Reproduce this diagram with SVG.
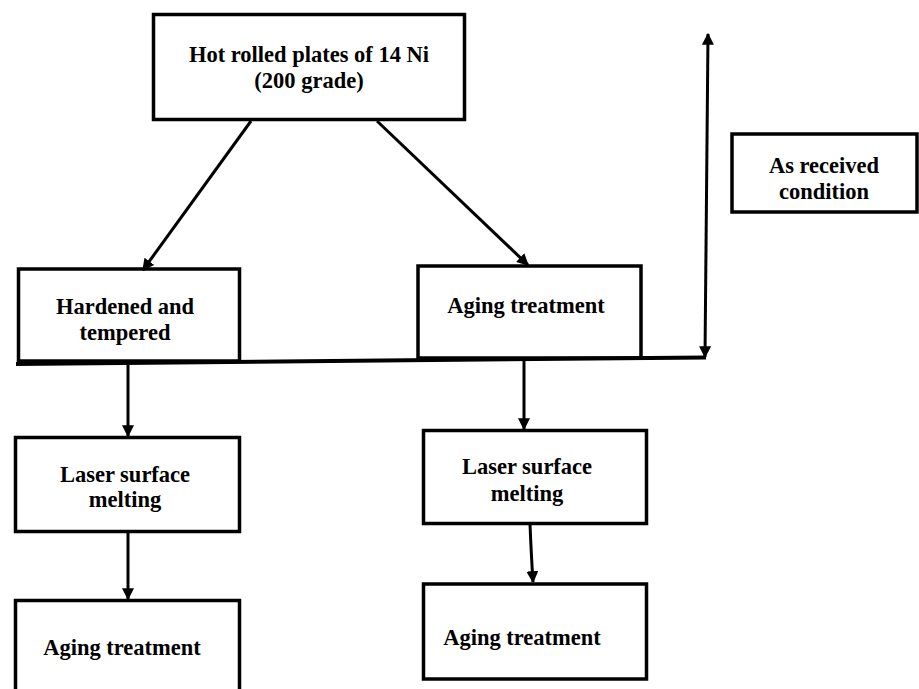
<svg xmlns="http://www.w3.org/2000/svg" width="919" height="689" viewBox="0 0 919 689">
<defs>
<marker id="ah" viewBox="0 0 10 10" refX="9" refY="5" markerWidth="4" markerHeight="4" markerUnits="strokeWidth" orient="auto-start-reverse">
<path d="M0,0 L10,5 L0,10 z" fill="#000"/>
</marker>
<style>
.box{fill:#fff;stroke:#000;stroke-width:3.5}
.t{font-family:"Liberation Serif","Times New Roman",serif;font-weight:bold;font-size:22.5px;fill:#000;text-anchor:middle}
.c{fill:none;stroke:#000;stroke-width:3}
</style>
</defs>
<rect width="919" height="689" fill="#fff"/>
<g id="n-hot">
<rect class="box" x="153.5" y="14.5" width="311" height="105"/>
<text class="t" x="309" y="62">Hot rolled plates of 14 Ni</text>
<text class="t" x="309" y="88">(200 grade)</text>
</g>
<g id="n-hardened">
<rect class="box" x="18.5" y="269" width="221" height="92"/>
<text class="t" x="125" y="314">Hardened and</text>
<text class="t" x="125" y="340">tempered</text>
</g>
<g id="n-aging1">
<rect class="box" x="418" y="266" width="223" height="92"/>
<text class="t" x="526" y="313">Aging treatment</text>
</g>
<g id="n-asreceived">
<rect class="box" x="732" y="134" width="185" height="78"/>
<text class="t" x="824" y="173">As received</text>
<text class="t" x="824" y="199">condition</text>
</g>
<g id="n-lsm1">
<rect class="box" x="15.5" y="437.5" width="224" height="94"/>
<text class="t" x="125" y="482">Laser surface</text>
<text class="t" x="125" y="507">melting</text>
</g>
<g id="n-lsm2">
<rect class="box" x="423.5" y="430.5" width="223" height="93"/>
<text class="t" x="527" y="474">Laser surface</text>
<text class="t" x="527" y="501">melting</text>
</g>
<g id="n-aging-left">
<rect class="box" x="15.5" y="600.5" width="224" height="100"/>
<text class="t" x="122" y="655">Aging treatment</text>
</g>
<g id="n-aging-right">
<rect class="box" x="423.5" y="584" width="223" height="95"/>
<text class="t" x="522" y="645">Aging treatment</text>
</g>
<g id="connectors">
<line class="c" x1="251" y1="121" x2="143" y2="270" marker-end="url(#ah)"/>
<line class="c" x1="377" y1="121" x2="528" y2="265" marker-end="url(#ah)"/>
<path d="M16,364 L706,357.5" fill="none" stroke="#000" stroke-width="4"/>
<line class="c" x1="705" y1="357" x2="708" y2="34" marker-start="url(#ah)" marker-end="url(#ah)"/>
<line class="c" x1="128" y1="365" x2="128" y2="436" marker-end="url(#ah)"/>
<line class="c" x1="524" y1="360" x2="524" y2="429" marker-end="url(#ah)"/>
<line class="c" x1="128" y1="532" x2="128" y2="599" marker-end="url(#ah)"/>
<path class="c" d="M530,524 Q531,550 533,582" marker-end="url(#ah)"/>
</g>
</svg>
